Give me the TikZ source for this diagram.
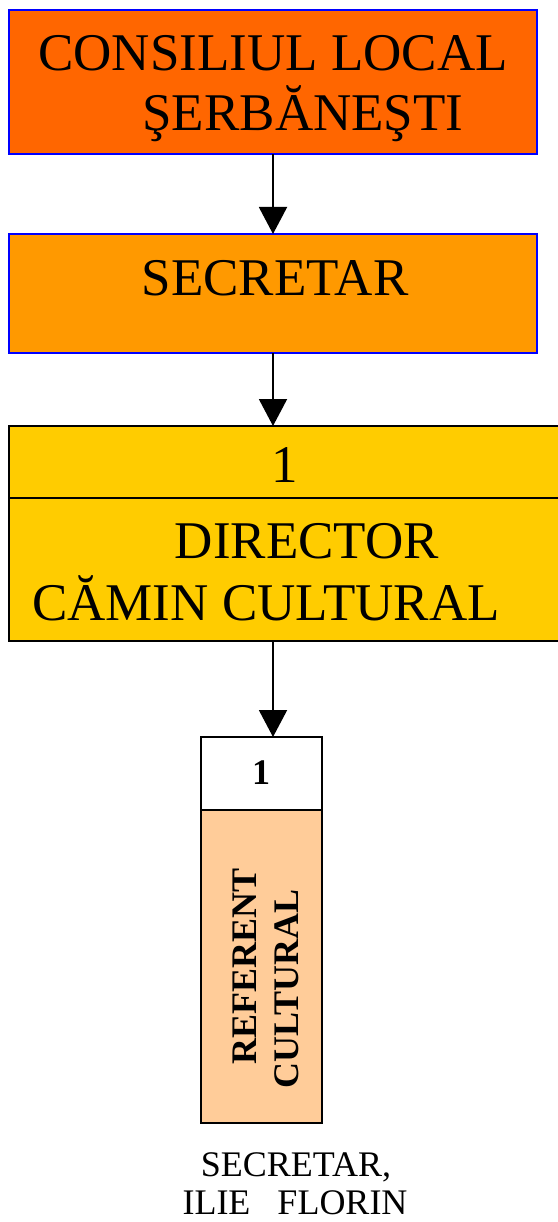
\documentclass[tikz,border=0pt]{standalone}
\usepackage{fontspec}
\setmainfont{Liberation Serif}
\usetikzlibrary{arrows.meta}
\usetikzlibrary{positioning}
\definecolor{consiliu}{HTML}{FF6600}
\definecolor{secr}{HTML}{FF9900}
\definecolor{camin}{HTML}{FFCC00}
\definecolor{referent}{HTML}{FFCC99}

\begin{document}
\begin{tikzpicture}[x=1pt,y=-1pt,
  bluebox/.style={draw=blue, line width=2pt, inner sep=0, outer sep=0, minimum width=528pt},
  blackbox/.style={draw=black, line width=1.8pt, inner sep=0, outer sep=0},
  big/.style={font=\fontsize{53}{60}\selectfont, anchor=base, inner sep=0},
  small/.style={font=\fontsize{36}{40}\selectfont, anchor=base, inner sep=0},
  arr/.style={line width=2pt, -{Triangle[length=27pt,width=28pt]}}]
\useasboundingbox (0,0) rectangle (557,1222);
% boxes
\node[bluebox, fill=consiliu, minimum height=144pt] (consiliu) at (273,82) {};
\node[bluebox, fill=secr, minimum height=119pt] (secretar) at (273,293.5) {};
\node[blackbox, fill=camin, minimum width=552pt, minimum height=72pt] (nr) at (285,462) {};
\node[blackbox, fill=camin, minimum width=552pt, minimum height=143pt, below=0pt of nr] (director) {};
\node[blackbox, fill=white, minimum width=121pt, minimum height=73pt] (nrref) at (261.5,773.5) {};
\node[blackbox, fill=referent, minimum width=121pt, minimum height=313pt, below=0pt of nrref] (referent) {};
% texts
\node[big] (consiliu1) at (273,71) {CONSILIUL LOCAL};
\node[big] (consiliu2) at (303,131) {ŞERBĂNEŞTI};
\node[big] (secretar1) at (275,295) {SECRETAR};
\node[big] (nr1) at (285,482) {1};
\node[big] (director1) at (307,558) {DIRECTOR};
\node[big] (director2) at (266,620) {CĂMIN CULTURAL};
\node[small, font=\fontsize{36}{40}\selectfont\bfseries] (nrref1) at (261,784) {1};
\node[small, font=\fontsize{36}{40}\selectfont\bfseries, rotate=90] (referent1) at (256,966) {REFERENT};
\node[small, font=\fontsize{36}{40}\selectfont\bfseries, rotate=90] (referent2) at (298,989) {CULTURAL};
\node[small] (nume1) at (296,1176) {SECRETAR,};
\node[small] (nume2) at (295,1214) {ILIE\ \ \ FLORIN};
% arrows
\draw[arr] (consiliu.south) -- (secretar.north);
\draw[arr] (secretar.south) -- (secretar.south |- nr.north);
\draw[arr] (director.south -| consiliu.south) -- (nrref.north -| consiliu.south);
\end{tikzpicture}
\end{document}
